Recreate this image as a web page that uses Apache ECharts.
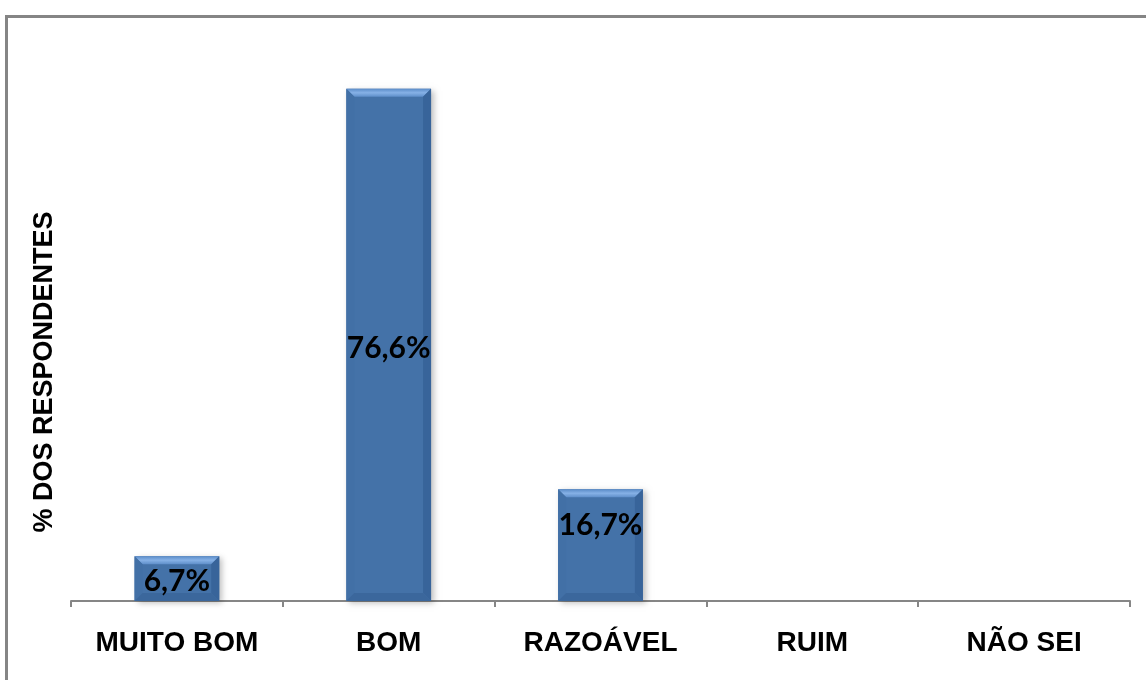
<!DOCTYPE html>
<html>
<head>
<meta charset="utf-8">
<script src="https://cdn.jsdelivr.net/npm/echarts@6/dist/echarts.min.js"></script>
<style>
  html, body { margin: 0; padding: 0; background: #fff; }
  #chart { width: 1146px; height: 680px; }
</style>
</head>
<body>
<div id="chart"></div>
<script>
// Avaliação: percentual dos respondentes por categoria
const categories = ['MUITO BOM', 'BOM', 'RAZOÁVEL', 'RUIM', 'NÃO SEI'];
const values = [6.7, 76.6, 16.7, 0, 0];
const valueLabels = ['6,7%', '76,6%', '16,7%', '', ''];
const yAxisTitle = '% DOS RESPONDENTES';

const chart = echarts.init(document.getElementById('chart'));

// Bar with a bevelled edge: flat face plus four lighter/darker edge strips
function renderBevelBar(params, api) {
  const idx = api.value(0);
  const v = api.value(1);
  if (!v) return null;
  const top = api.coord([idx, v]);
  const base = api.coord([idx, 0]);
  const band = api.size([1, 0])[0];
  const w = band * 0.4;
  const x0 = top[0] - w / 2, x1 = top[0] + w / 2;
  const y0 = top[1], y1 = base[1];
  const b = 8;
  return {
    type: 'group',
    children: [
      { type: 'rect', shape: { x: x0, y: y0, width: w, height: y1 - y0 },
        style: { fill: '#4472a8', shadowBlur: 6, shadowOffsetX: 3, shadowOffsetY: 2, shadowColor: 'rgba(0,0,0,0.25)' } },
      { type: 'polygon', shape: { points: [[x0, y0], [x1, y0], [x1 - b, y0 + b], [x0 + b, y0 + b]] },
        style: { fill: new echarts.graphic.LinearGradient(0, 0, 0, 1, [{ offset: 0, color: '#5b8cc8' }, { offset: 0.5, color: '#86b1e6' }, { offset: 1, color: '#5f8fca' }]) } },
      { type: 'polygon', shape: { points: [[x0, y0], [x0 + b, y0 + b], [x0 + b, y1 - b], [x0, y1]] },
        style: { fill: '#4270a6' } },
      { type: 'polygon', shape: { points: [[x1, y0], [x1 - b, y0 + b], [x1 - b, y1 - b], [x1, y1]] },
        style: { fill: '#38649a' } },
      { type: 'polygon', shape: { points: [[x0, y1], [x0 + b, y1 - b], [x1 - b, y1 - b], [x1, y1]] },
        style: { fill: '#3b679c' } }
    ]
  };
}

chart.setOption({
  animation: false,
  graphic: [
    { type: 'rect', left: 4, top: 14, shape: { width: 1160, height: 700 },
      style: { fill: 'none', stroke: '#858585', lineWidth: 3 }, silent: true },
    { type: 'text', x: 45, y: 372, rotation: Math.PI / 2,
      style: { text: yAxisTitle, fill: '#000', font: 'bold 27px "Liberation Sans", Arial, sans-serif',
               align: 'center', verticalAlign: 'middle' } }
  ],
  grid: { left: 71, right: 16, top: 66, bottom: 79 },
  xAxis: {
    type: 'category',
    data: categories,
    axisLine: { lineStyle: { color: '#868686', width: 2 } },
    axisTick: { show: true, length: 6, lineStyle: { color: '#868686', width: 2 } },
    axisLabel: { color: '#000', fontFamily: '"Liberation Sans", Arial, sans-serif', fontWeight: 'bold', fontSize: 28, margin: 28 }
  },
  yAxis: { type: 'value', min: 0, max: 80, show: false, splitLine: { show: false } },
  series: [
    {
      type: 'custom',
      renderItem: renderBevelBar,
      data: values.map((v, i) => [i, v]),
      z: 2
    },
    {
      type: 'bar',
      data: values.map((v, i) => ({
        value: v,
        label: { offset: i === 2 ? [0, -20] : [0, 3] }
      })),
      barWidth: '40%',
      itemStyle: { color: 'rgba(0,0,0,0)' },
      z: 3,
      label: {
        show: true,
        position: 'inside',
        formatter: p => valueLabels[p.dataIndex],
        color: '#000',
        fontFamily: 'Lato, "Open Sans", sans-serif',
        fontWeight: 'bold',
        fontSize: 30
      }
    }
  ]
});
</script>
</body>
</html>
